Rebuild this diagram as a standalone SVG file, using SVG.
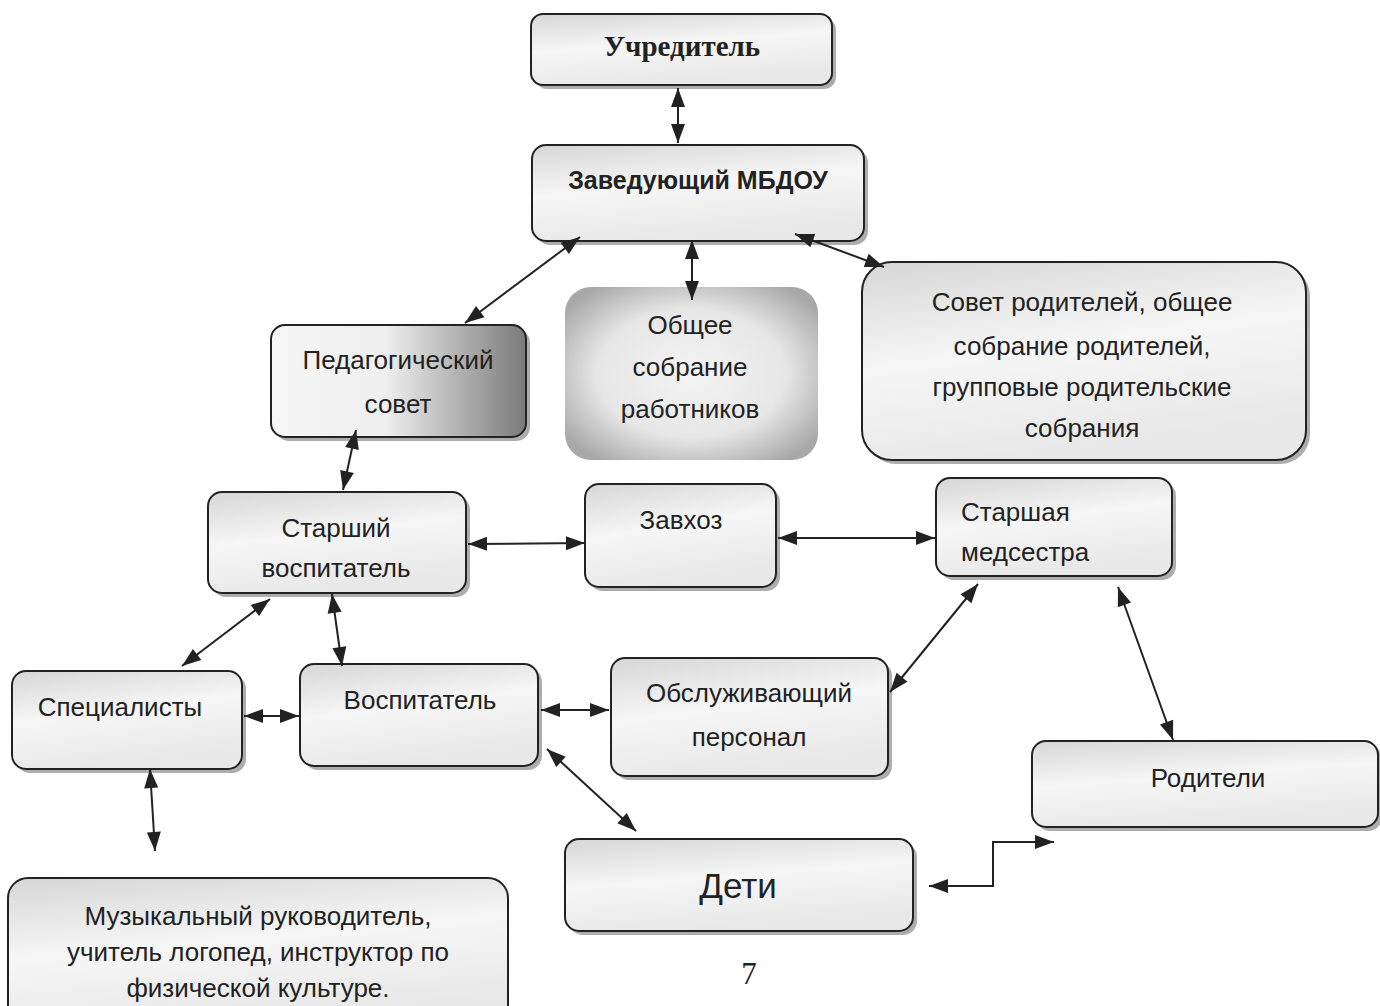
<svg xmlns="http://www.w3.org/2000/svg" width="1380" height="1006" viewBox="0 0 1380 1006">
<style>
.box{fill:url(#g);stroke:#222;stroke-width:2}
.sh{fill:#777;opacity:0.6}
.t{font-family:"Liberation Sans",Arial,sans-serif;font-size:26px;fill:#222;text-anchor:middle}
.c{fill:none;stroke:#222;stroke-width:2;marker-start:url(#a);marker-end:url(#a)}
</style>
<defs>
<marker id="a" refX="19" refY="7" markerWidth="22" markerHeight="16" markerUnits="userSpaceOnUse" orient="auto-start-reverse" style="overflow:visible">
<path d="M0,0L19,7L0,14Z" fill="#222"/>
</marker>
<linearGradient id="g" x1="0" y1="0" x2="0.3" y2="1">
<stop offset="0" stop-color="#d6d6d6"/><stop offset="0.5" stop-color="#f6f6f6"/><stop offset="1" stop-color="#e8e8e8"/>
</linearGradient>
<linearGradient id="gp" x1="0" y1="0" x2="1" y2="0">
<stop offset="0" stop-color="#f6f6f6"/><stop offset="0.45" stop-color="#eeeeee"/><stop offset="1" stop-color="#7a7a7a"/>
</linearGradient>
<radialGradient id="gr" cx="0.5" cy="0.5" r="0.62">
<stop offset="0" stop-color="#f4f4f4"/><stop offset="0.6" stop-color="#e6e6e6"/><stop offset="1" stop-color="#a8a8a8"/>
</radialGradient>
</defs>
<rect width="1380" height="1006" fill="#fff"/>

<g id="n-uchreditel">
<rect class="sh" x="535" y="18" width="301" height="71" rx="12"/>
<rect class="box" x="531" y="14" width="301" height="71" rx="12"/>
<text x="682" y="56" style="font-family:'Liberation Serif','Times New Roman',serif;font-weight:bold;font-size:29px;fill:#222;text-anchor:middle">Учредитель</text>
</g>
<g id="n-zaved">
<rect class="sh" x="536" y="149" width="332" height="96" rx="14"/>
<rect class="box" x="532" y="145" width="332" height="96" rx="14"/>
<text class="t" x="698" y="189" style="font-weight:bold;font-size:25px">Заведующий МБДОУ</text>
</g>
<g id="n-pedsovet">
<rect class="sh" x="275" y="329" width="255" height="112" rx="14"/>
<rect x="271" y="325" width="255" height="112" rx="14" fill="url(#gp)" stroke="#222" stroke-width="2"/>
<text class="t" x="398" y="369">Педагогический</text>
<text class="t" x="398" y="413">совет</text>
</g>
<g id="n-obshee">
<rect x="565" y="287" width="253" height="173" rx="26" fill="url(#gr)"/>
<text class="t" x="690" y="334">Общее</text>
<text class="t" x="690" y="376">собрание</text>
<text class="t" x="690" y="418">работников</text>
</g>
<g id="n-sovet">
<rect class="sh" x="866" y="266" width="444" height="198" rx="30"/>
<rect class="box" x="862" y="262" width="444" height="198" rx="30"/>
<text class="t" x="1082" y="311">Совет родителей, общее</text>
<text class="t" x="1082" y="355">собрание родителей,</text>
<text class="t" x="1082" y="396">групповые родительские</text>
<text class="t" x="1082" y="437">собрания</text>
</g>
<g id="n-starshiy">
<rect class="sh" x="212" y="496" width="258" height="101" rx="14"/>
<rect class="box" x="208" y="492" width="258" height="101" rx="14"/>
<text class="t" x="336" y="537">Старший</text>
<text class="t" x="336" y="577">воспитатель</text>
</g>
<g id="n-zavhoz">
<rect class="sh" x="589" y="488" width="191" height="103" rx="14"/>
<rect class="box" x="585" y="484" width="191" height="103" rx="14"/>
<text class="t" x="681" y="529">Завхоз</text>
</g>
<g id="n-medsestra">
<rect class="sh" x="940" y="482" width="236" height="98" rx="14"/>
<rect class="box" x="936" y="478" width="236" height="98" rx="14"/>
<text class="t" x="961" y="521" style="text-anchor:start">Старшая</text>
<text class="t" x="961" y="561" style="text-anchor:start">медсестра</text>
</g>
<g id="n-spec">
<rect class="sh" x="16" y="675" width="230" height="98" rx="14"/>
<rect class="box" x="12" y="671" width="230" height="98" rx="14"/>
<text class="t" x="120" y="716">Специалисты</text>
</g>
<g id="n-vosp">
<rect class="sh" x="304" y="668" width="238" height="102" rx="14"/>
<rect class="box" x="300" y="664" width="238" height="102" rx="14"/>
<text class="t" x="420" y="709">Воспитатель</text>
</g>
<g id="n-obsl">
<rect class="sh" x="615" y="662" width="277" height="118" rx="14"/>
<rect class="box" x="611" y="658" width="277" height="118" rx="14"/>
<text class="t" x="749" y="702">Обслуживающий</text>
<text class="t" x="749" y="746">персонал</text>
</g>
<g id="n-roditeli">
<rect class="sh" x="1036" y="745" width="346" height="86" rx="14"/>
<rect class="box" x="1032" y="741" width="346" height="86" rx="14"/>
<text class="t" x="1208" y="787">Родители</text>
</g>
<g id="n-deti">
<rect class="sh" x="569" y="843" width="348" height="92" rx="14"/>
<rect class="box" x="565" y="839" width="348" height="92" rx="14"/>
<text class="t" x="738" y="898" style="font-size:35px">Дети</text>
</g>
<g id="n-muz">
<rect class="box" x="8" y="878" width="500" height="150" rx="20"/>
<text class="t" x="258" y="925">Музыкальный руководитель,</text>
<text class="t" x="258" y="961">учитель логопед, инструктор по</text>
<text class="t" x="258" y="997">физической культуре.</text>
</g>
<text id="page" x="749" y="984" style="font-family:'Liberation Serif','Times New Roman',serif;font-size:31px;fill:#222;text-anchor:middle">7</text>

<g id="connectors">
<line class="c" x1="678" y1="88" x2="678" y2="143"/>
<line class="c" x1="580" y1="237" x2="465" y2="323"/>
<line class="c" x1="692" y1="240" x2="692" y2="300"/>
<line class="c" x1="795" y1="234" x2="884" y2="267"/>
<line class="c" x1="356" y1="430" x2="343" y2="490"/>
<line class="c" x1="468" y1="544" x2="585" y2="543"/>
<line class="c" x1="778" y1="538" x2="935" y2="538"/>
<line class="c" x1="270" y1="599" x2="182" y2="666"/>
<line class="c" x1="332" y1="594" x2="342" y2="666"/>
<line class="c" x1="244" y1="716" x2="299" y2="716"/>
<line class="c" x1="541" y1="710" x2="609" y2="710"/>
<line class="c" x1="890" y1="692" x2="978" y2="584"/>
<line class="c" x1="1118" y1="587" x2="1173" y2="740"/>
<line class="c" x1="547" y1="749" x2="636" y2="831"/>
<line class="c" x1="150" y1="769" x2="155" y2="851"/>
<polyline class="c" points="929,886 993,886 993,842 1054,842"/>
</g>
</svg>
